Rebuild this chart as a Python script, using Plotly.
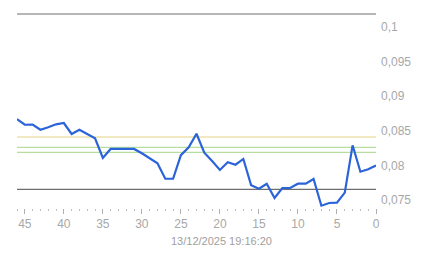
import plotly.graph_objects as go

# data (minutes ago -> value)
x_vals = list(range(46, -1, -1))
y_vals = [0.08671, 0.08589, 0.0859, 0.08517, 0.08552, 0.08595, 0.08614, 0.08455,
          0.08517, 0.08455, 0.08393, 0.0811, 0.0824, 0.0824, 0.0824, 0.0824,
          0.08177, 0.08105, 0.08032, 0.0781, 0.0781, 0.0815, 0.08263, 0.08459,
          0.08186, 0.08066, 0.07936, 0.08047, 0.08012, 0.08095, 0.07715, 0.07666,
          0.07738, 0.07532, 0.07676, 0.07676, 0.07738, 0.07738, 0.07806, 0.07421,
          0.0746, 0.07464, 0.07609, 0.08292, 0.07911, 0.07946, 0.0800]

# reference levels
level_max = 0.10186
level_min = 0.07657
level_yellow = 0.08412
level_green = [0.08263, 0.08191]

y_tickvals = [0.075, 0.08, 0.085, 0.09, 0.095, 0.1]
y_ticktext = ["0,075", "0,08", "0,085", "0,09", "0,095", "0,1"]
x_tickvals = [45, 40, 35, 30, 25, 20, 15, 10, 5, 0]
x_title = "13/12/2025 19:16:20"

fig = go.Figure()
fig.add_trace(go.Scatter(x=x_vals, y=y_vals, mode="lines",
                         line=dict(color="#2b63d9", width=2.2), hoverinfo="skip"))

def hline(y, color, width=1):
    fig.add_shape(type="line", xref="x", yref="y", x0=46, x1=0, y0=y, y1=y,
                  line=dict(color=color, width=width), layer="below")

hline(level_max, "#6e6e6e", 1.2)
hline(level_min, "#6e6e6e", 1.2)
hline(level_yellow, "#e6d482", 1.2)
for g in level_green:
    hline(g, "#b5dea0", 1.2)

fig.add_annotation(text=x_title, xref="paper", yref="paper", x=0.5696, y=-0.167,
                   xanchor="center", yanchor="middle", showarrow=False,
                   font=dict(size=11, color="#a0a0a0"))

fig.update_layout(
    width=443, height=258,
    margin=dict(l=17, r=67, t=10, b=50),
    paper_bgcolor="white", plot_bgcolor="white",
    showlegend=False,
    separators=",.",
    font=dict(family="Liberation Sans, Arial", size=12, color="#a8a8a8"),
    xaxis=dict(range=[46, 0], showgrid=False, zeroline=False, showline=False,
               tickvals=x_tickvals, ticks="outside", ticklen=5, tickwidth=1,
               tickcolor="#b0b0b0",
               minor=dict(ticks="outside", ticklen=2, dtick=1, tickcolor="#c0c0c0", showgrid=False),
               tickfont=dict(size=12, color="#a8a8a8")),
    yaxis=dict(range=[0.073877, 0.10244], side="right", showgrid=False, zeroline=False,
               showline=False, tickvals=y_tickvals, ticktext=y_ticktext, ticks="",
               ticklabelstandoff=4,
               tickfont=dict(size=12, color="#a8a8a8")),
)

fig.write_html("out.html")
